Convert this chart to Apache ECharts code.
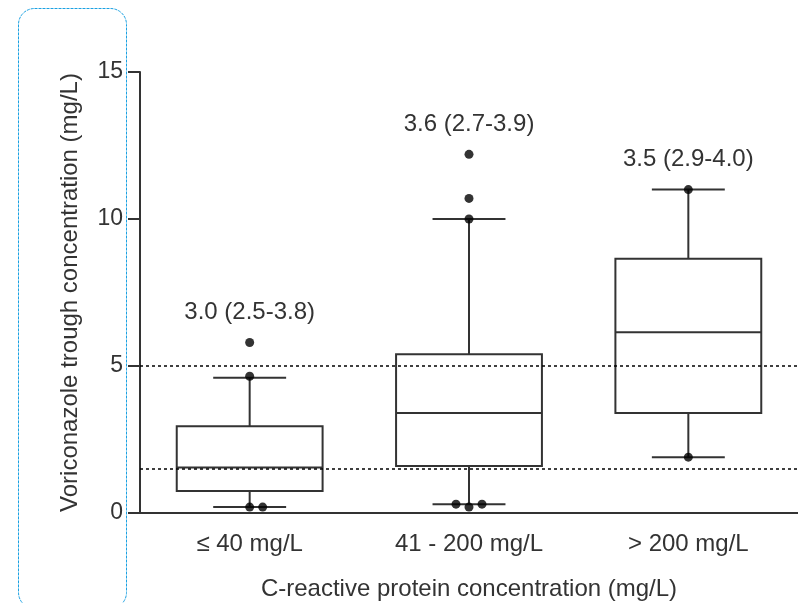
<!DOCTYPE html>
<html><head><meta charset="utf-8">
<script src="https://cdn.jsdelivr.net/npm/echarts@6/dist/echarts.min.js"></script>
<style>html,body{margin:0;padding:0;background:#fff}#c{width:798px;height:603px}</style>
</head><body><div id="c"></div>
<script>
const categories = ['≤ 40 mg/L', '41 - 200 mg/L', '> 200 mg/L'];
const whiskerLow = [0.2, 0.3, 1.9];
const q1 = [0.75, 1.6, 3.4];
const median = [1.55, 3.4, 6.15];
const q3 = [2.95, 5.4, 8.65];
const whiskerHigh = [4.6, 10.0, 11.0];
const pointsCat0 = [5.8, 4.65, 0.2, 0.2];
const pointsCat1 = [12.2, 10.7, 10.0, 0.3, 0.2, 0.3];
const pointsCat2 = [11.0, 1.9];
const annotations = ['3.0 (2.5-3.8)', '3.6 (2.7-3.9)', '3.5 (2.9-4.0)'];
const refLines = [5, 1.5];
const yTicks = [0, 5, 10, 15];

const FONT = 'Liberation Sans, Arial, sans-serif';
const TXT = '#333';

const boxData = categories.map((c, i) => [i, whiskerLow[i], q1[i], median[i], q3[i], whiskerHigh[i]]);

const allPoints = [pointsCat0, pointsCat1, pointsCat2];
const pointData = [];
allPoints.forEach((vals, ci) => {
  const sorted = vals.slice().sort((a, b) => a - b);
  const clusters = [];
  sorted.forEach(v => {
    const last = clusters[clusters.length - 1];
    if (last && v - last[last.length - 1] < 0.25) last.push(v); else clusters.push([v]);
  });
  clusters.forEach(cl => {
    const n = cl.length;
    let ordered = cl.slice();
    if (n === 3) ordered = [cl[1], cl[0], cl[2]];
    ordered.forEach((v, k) => {
      const off = (k - Math.floor((n - 1) / 2)) * 13;
      pointData.push({ value: [ci, v], symbolOffset: [off, 0] });
    });
  });
});

const annData = categories.map((c, i) => [i, Math.max(whiskerHigh[i], ...allPoints[i])]);

const chart = echarts.init(document.getElementById('c'));
chart.setOption({
  animation: false,
  backgroundColor: '#fff',
  grid: { left: 140, right: 0, top: 72, bottom: 90, outerBoundsMode: 'none', containLabel: false },
  graphic: [{
    type: 'rect', left: 16, top: 6, z: 100,
    shape: { width: 108, height: 600, r: 16 },
    style: { fill: 'none', stroke: '#1ba1e2', lineWidth: 1, lineDash: [3, 1] }
  }],
  xAxis: {
    type: 'category', data: categories, boundaryGap: true,
    axisLine: { lineStyle: { color: '#333', width: 2 } },
    axisTick: { alignWithLabel: true, length: 14, lineStyle: { color: '#333', width: 2 } },
    axisLabel: { color: TXT, fontFamily: FONT, fontSize: 24, margin: 19 },
    name: 'C-reactive protein concentration (mg/L)', nameLocation: 'middle', nameGap: 64,
    nameTextStyle: { color: TXT, fontFamily: FONT, fontSize: 24 }
  },
  yAxis: {
    type: 'value', min: 0, max: 15, interval: 5,
    axisLine: { show: true, lineStyle: { color: '#333', width: 2 } },
    axisTick: { show: true, length: 12, lineStyle: { color: '#333', width: 2 } },
    axisLabel: { color: TXT, fontFamily: FONT, fontSize: 23, margin: 17,
      formatter: v => yTicks.indexOf(v) >= 0 ? String(v) : '' },
    splitLine: { show: false },
    name: 'Voriconazole trough concentration (mg/L)', nameLocation: 'middle', nameGap: 58,
    nameTextStyle: { color: TXT, fontFamily: FONT, fontSize: 24 }
  },
  series: [
    {
      type: 'custom', z: 2,
      data: boxData,
      renderItem: (params, api) => {
        const x = api.value(0);
        const lo = api.coord([x, api.value(1)]);
        const b1 = api.coord([x, api.value(2)]);
        const md = api.coord([x, api.value(3)]);
        const b3 = api.coord([x, api.value(4)]);
        const hi = api.coord([x, api.value(5)]);
        const bw = api.size([1, 0])[0] * 0.665;
        const h = bw / 2, c = bw / 4;
        const cx = lo[0];
        const st = { stroke: '#333', lineWidth: 2, fill: 'none' };
        return { type: 'group', children: [
          { type: 'rect', shape: { x: cx - h, y: b3[1], width: bw, height: b1[1] - b3[1] }, style: st },
          { type: 'line', shape: { x1: cx - h, y1: md[1], x2: cx + h, y2: md[1] }, style: st },
          { type: 'line', shape: { x1: cx, y1: b3[1], x2: cx, y2: hi[1] }, style: st },
          { type: 'line', shape: { x1: cx, y1: b1[1], x2: cx, y2: lo[1] }, style: st },
          { type: 'line', shape: { x1: cx - c, y1: hi[1], x2: cx + c, y2: hi[1] }, style: st },
          { type: 'line', shape: { x1: cx - c, y1: lo[1], x2: cx + c, y2: lo[1] }, style: st }
        ] };
      }
    },
    {
      type: 'line', data: [], z: 3,
      markLine: {
        silent: true, symbol: 'none', label: { show: false },
        lineStyle: { color: '#000', type: [3, 3], width: 1.5 },
        data: refLines.map(v => ({ yAxis: v }))
      }
    },
    {
      type: 'scatter', z: 4, symbol: 'circle', symbolSize: 9,
      itemStyle: { color: '#000' },
      data: pointData
    },
    {
      type: 'custom', z: 5,
      data: annData,
      renderItem: (params, api) => {
        const p = api.coord([api.value(0), api.value(1)]);
        return { type: 'text', x: p[0], y: p[1] - 18,
          style: { text: annotations[params.dataIndex], fill: TXT, font: '24px ' + FONT,
            textAlign: 'center', textVerticalAlign: 'bottom' } };
      }
    }
  ]
});
</script></body></html>
